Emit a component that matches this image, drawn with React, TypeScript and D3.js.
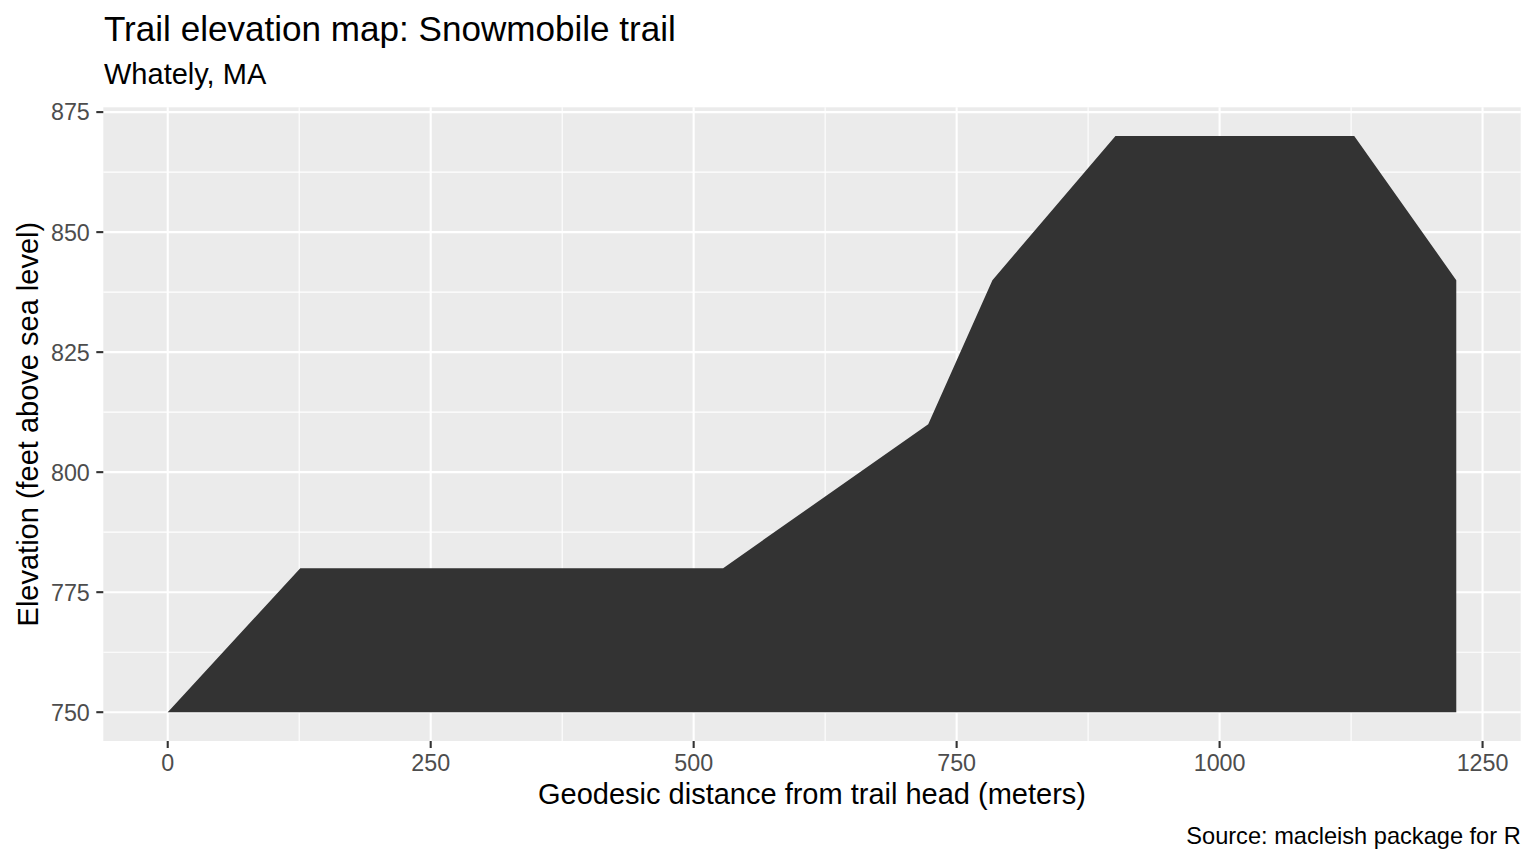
import * as d3 from 'd3'

// Trail profile
const distance = [0, 126, 528, 723, 784, 901, 1128, 1225]
const elevation = [750, 780, 780, 810, 840, 870, 870, 840]

const xTicks = [0, 250, 500, 750, 1000, 1250]
const xMinor = [125, 375, 625, 875, 1125]
const yTicks = [750, 775, 800, 825, 850, 875]
const yMinor = [762.5, 787.5, 812.5, 837.5, 862.5]

const titleText = 'Trail elevation map: Snowmobile trail'
const subtitleText = 'Whately, MA'
const xLabel = 'Geodesic distance from trail head (meters)'
const yLabel = 'Elevation (feet above sea level)'
const captionText = 'Source: macleish package for R'

const W = 1536
const H = 864
const panel = { left: 103.3, right: 1520.7, top: 107.3, bottom: 741 }
const FONT = 'Liberation Sans, Arial, Helvetica, sans-serif'

export default function App() {
  const points = distance.map((d, i) => ({ d, e: elevation[i] }))

  // ggplot-style 5% expansion on both axes
  const xr = d3.extent(distance) as [number, number]
  const xPad = (xr[1] - xr[0]) * 0.05
  const x = d3.scaleLinear()
    .domain([xr[0] - xPad, xr[1] + xPad])
    .range([panel.left, panel.right])

  const yr = [750, 870]
  const yPad = (yr[1] - yr[0]) * 0.05
  const y = d3.scaleLinear()
    .domain([yr[0] - yPad, yr[1] + yPad])
    .range([panel.bottom, panel.top])

  const area = d3.area<{ d: number; e: number }>()
    .x(p => x(p.d))
    .y0(() => y(750))
    .y1(p => y(p.e))

  const cx = (panel.left + panel.right) / 2
  const cy = (panel.top + panel.bottom) / 2

  return (
    <div style={{ position: 'absolute', left: 0, top: 0 }}>
      <svg width={W} height={H} style={{ display: 'block', background: '#fff' }}>
        <rect x={panel.left} y={panel.top} width={panel.right - panel.left}
          height={panel.bottom - panel.top} fill="#EBEBEB" />

        {/* minor grid */}
        {xMinor.map(t => (
          <line key={'xm' + t} x1={x(t)} x2={x(t)} y1={panel.top} y2={panel.bottom}
            stroke="#fff" strokeWidth={1.1} />
        ))}
        {yMinor.map(t => (
          <line key={'ym' + t} x1={panel.left} x2={panel.right} y1={y(t)} y2={y(t)}
            stroke="#fff" strokeWidth={1.1} />
        ))}
        {/* major grid */}
        {xTicks.map(t => (
          <line key={'xg' + t} x1={x(t)} x2={x(t)} y1={panel.top} y2={panel.bottom}
            stroke="#fff" strokeWidth={2.1} />
        ))}
        {yTicks.map(t => (
          <line key={'yg' + t} x1={panel.left} x2={panel.right} y1={y(t)} y2={y(t)}
            stroke="#fff" strokeWidth={2.1} />
        ))}

        <path d={area(points) ?? ''} fill="#333333" />

        {/* axes ticks + labels */}
        {xTicks.map(t => (
          <g key={'xt' + t}>
            <line x1={x(t)} x2={x(t)} y1={panel.bottom} y2={panel.bottom + 7}
              stroke="#333333" strokeWidth={2.1} />
            <text x={x(t)} y={771} textAnchor="middle" fill="#4D4D4D"
              fontSize={23.3} fontFamily={FONT}>{t}</text>
          </g>
        ))}
        {yTicks.map(t => (
          <g key={'yt' + t}>
            <line x1={panel.left - 7} x2={panel.left} y1={y(t)} y2={y(t)}
              stroke="#333333" strokeWidth={2.1} />
            <text x={panel.left - 13.5} y={y(t)} dy="0.36em" textAnchor="end" fill="#4D4D4D"
              fontSize={23.3} fontFamily={FONT}>{t}</text>
          </g>
        ))}

        <text x={cx} y={804} textAnchor="middle" fill="#000" fontSize={29}
          fontFamily={FONT}>{xLabel}</text>
        <text transform={`translate(38,${cy}) rotate(-90)`} textAnchor="middle" fill="#000"
          fontSize={29} fontFamily={FONT}>{yLabel}</text>

        <text x={104} y={41} fill="#000" fontSize={35.1} fontFamily={FONT}>{titleText}</text>
        <text x={104} y={84} fill="#000" fontSize={29} fontFamily={FONT}>{subtitleText}</text>
        <text x={panel.right} y={844} textAnchor="end" fill="#000" fontSize={23.6}
          fontFamily={FONT}>{captionText}</text>
      </svg>
    </div>
  )
}
